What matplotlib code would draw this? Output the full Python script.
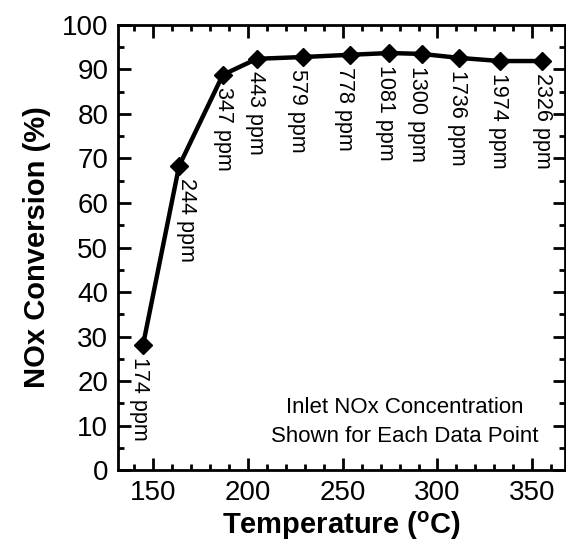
import matplotlib.pyplot as plt
from matplotlib.ticker import MultipleLocator

# values
temperature = [144.7, 163.7, 186.8, 204.7, 228.9, 253.7, 274.7, 291.6, 311.6, 333.2, 355.3]
conversion = [28.1, 68.3, 88.8, 92.4, 92.8, 93.3, 93.7, 93.5, 92.6, 91.9, 91.9]
inlet_ppm = ['174 ppm', '244 ppm', '347 ppm', '443 ppm', '579 ppm', '778 ppm',
             '1081 ppm', '1300 ppm', '1736 ppm', '1974 ppm', '2326 ppm']
# label x offset (points) from each data point
label_dx = [-2.5, 5, 0.5, -1, -3.5, -4, -3, -3, -1.5, -1.5, 0.5]

plt.rcParams['font.family'] = ['Liberation Sans', 'DejaVu Sans']

fig = plt.figure(figsize=(5.66, 5.48), dpi=100)
ax = fig.add_axes([0.2085, 0.1423, 0.7905, 0.8121])

ax.plot(temperature, conversion, color='black', linewidth=3.2,
        marker='D', markersize=9, markerfacecolor='black', markeredgecolor='black')

for x, y, txt, dx in zip(temperature, conversion, inlet_ppm, label_dx):
    ax.annotate(txt, (x, y), xytext=(dx, -8.5), textcoords='offset points',
                rotation=-90, ha='center', va='top', fontsize=15.5)

ax.text(0.64, 0.108, 'Inlet NOx Concentration\nShown for Each Data Point',
        transform=ax.transAxes, ha='center', va='center', fontsize=16,
        linespacing=1.45)

ax.set_xlim(131.5, 367.5)
ax.set_ylim(0, 100)
ax.xaxis.set_major_locator(MultipleLocator(50))
ax.xaxis.set_minor_locator(MultipleLocator(10))
ax.yaxis.set_major_locator(MultipleLocator(10))
ax.yaxis.set_minor_locator(MultipleLocator(5))

ax.tick_params(which='both', direction='in', top=True, right=True, width=2)
ax.tick_params(which='major', length=9, labelsize=20)
ax.tick_params(which='minor', length=4.5)
ax.tick_params(axis='y', pad=7)
ax.tick_params(axis='x', pad=7)
for sp in ax.spines.values():
    sp.set_linewidth(2)

ax.set_xlabel('Temperature ($\\mathregular{^o}$C)', fontsize=21, fontweight='bold', labelpad=3)
ax.set_ylabel('NOx Conversion (%)', fontsize=21, fontweight='bold', labelpad=8)

fig.savefig('out.png', dpi=100)
